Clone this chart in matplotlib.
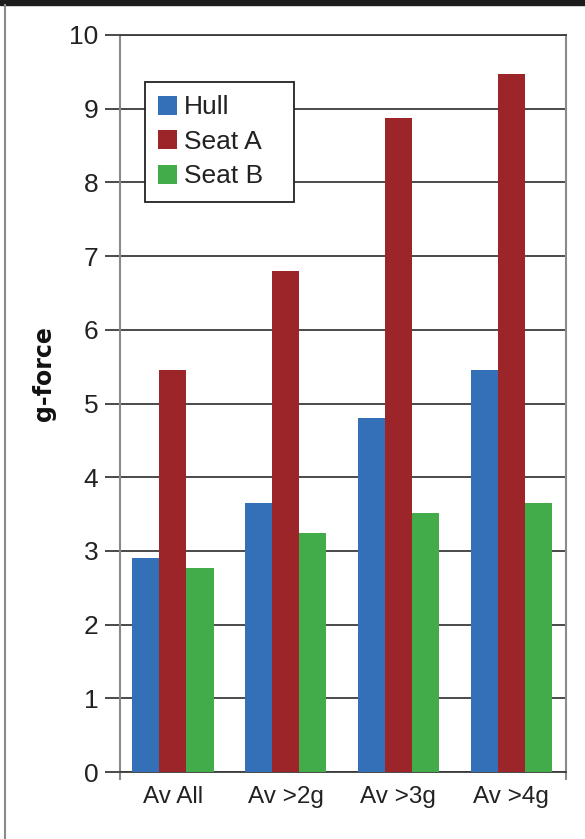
import numpy as np
import matplotlib
matplotlib.use("Agg")
import matplotlib.pyplot as plt
from matplotlib.patches import Rectangle
from matplotlib.lines import Line2D

categories = ["Av All", "Av >2g", "Av >3g", "Av >4g"]
series_names = ["Hull", "Seat A", "Seat B"]
hull = [2.9, 3.65, 4.8, 5.45]
seat_a = [5.45, 6.8, 8.88, 9.47]
seat_b = [2.77, 3.24, 3.52, 3.65]
colors = ["#3370B8", "#9C2529", "#42AB4A"]
yticks = list(range(0, 11))

plt.rcParams["font.family"] = ["Liberation Sans", "DejaVu Sans"]

fig = plt.figure(figsize=(5.85, 8.39), dpi=100)
ax = fig.add_axes([120 / 585, 1 - 772 / 839, 446 / 585, 737 / 839])

x = np.arange(len(categories))
w = 0.24
for i, (vals, name) in enumerate(zip([hull, seat_a, seat_b], series_names)):
    ax.bar(x + (i - 1) * w, vals, width=w, color=colors[i], label=name, zorder=3)

grid_col = "#3c3c3c"
ax.set_ylim(0, 10)
ax.set_xlim(-0.47, 3.487)
ax.set_yticks(yticks)
ax.yaxis.grid(True, color=grid_col, linewidth=1.3, zorder=1)
ax.set_axisbelow(True)
ax.tick_params(axis="y", direction="out", length=10.5, width=1.3,
               color=grid_col, labelsize=19, pad=5, labelcolor="#222222")

ax.set_xticks(x)
ax.set_xticklabels(categories)
ax.tick_params(axis="x", which="major", length=0, labelsize=17.5, pad=10,
               labelcolor="#222222")
# short grey ticks hanging under the two side spines
ax.set_xticks(ax.get_xlim(), minor=True)
ax.tick_params(axis="x", which="minor", length=6, width=1.5, color="#8a8a8a")

for side in ["left", "right"]:
    ax.spines[side].set_color("#8a8a8a")
    ax.spines[side].set_linewidth(1.5)
for side in ["top", "bottom"]:
    ax.spines[side].set_color(grid_col)
    ax.spines[side].set_linewidth(1.3)

fig.text(44 / 585, 1 - 374 / 839, "g-force", rotation=90, ha="center",
         va="center", fontsize=17, fontweight="bold", family="DejaVu Sans",
         color="#111111")

leg = ax.legend(loc="upper left", bbox_to_anchor=(0.056, 0.5, 0.334, 0.436),
                mode="expand", borderaxespad=0, fancybox=False, framealpha=1,
                edgecolor="#222222", fontsize=19, handlelength=0.72,
                handleheight=0.72, handletextpad=0.25, labelspacing=0.4,
                borderpad=0.5)
leg.get_frame().set_linewidth(1.3)
for t in leg.get_texts():
    t.set_color("#222222")

# black band along the top and grey rule at the left edge
fig.add_artist(Rectangle((0, 1 - 5 / 839), 1, 5 / 839,
                         transform=fig.transFigure, color="#1c1c1c"))
fig.add_artist(Line2D([4.5 / 585, 4.5 / 585], [0, 1 - 5 / 839],
                      transform=fig.transFigure, color="#8a8a8a", linewidth=1.5))

fig.savefig("out.png", dpi=100)
